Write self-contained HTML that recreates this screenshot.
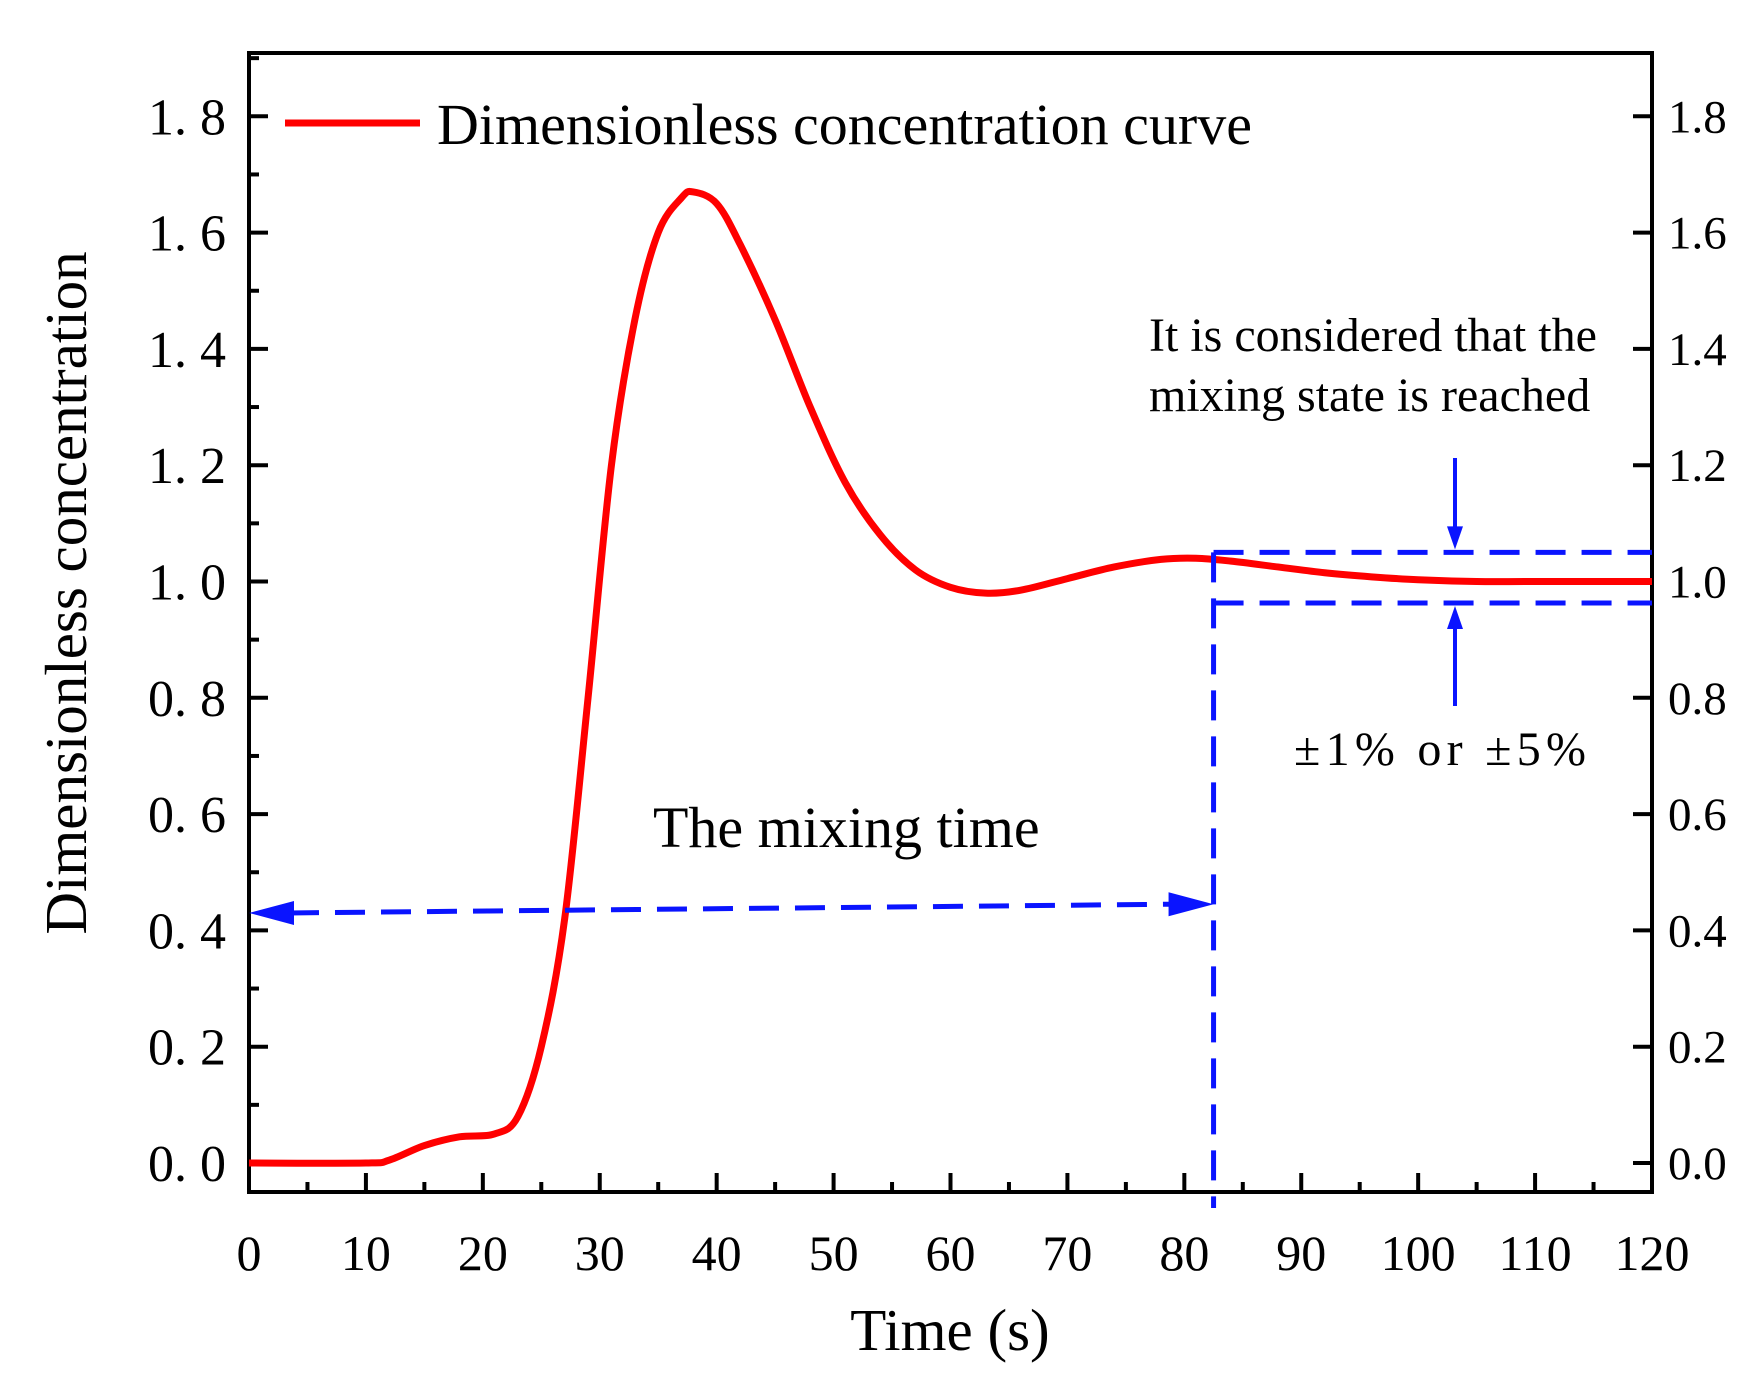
<!DOCTYPE html>
<html><head><meta charset="utf-8">
<style>
html,body{margin:0;padding:0;background:#fff;}
svg{display:block;font-family:"Liberation Serif",serif;}
</style></head>
<body>
<svg id="chart" width="1763" height="1382" viewBox="0 0 1763 1382" xmlns="http://www.w3.org/2000/svg">
<rect width="1763" height="1382" fill="#fff"/>
<g id="axes"></g>
<g id="marks"></g>
<text transform="translate(86,593) rotate(-90)" text-anchor="middle" font-size="59">Dimensionless concentration</text>
<text x="950" y="1350" text-anchor="middle" font-size="59">Time (s)</text>
<line x1="285" y1="123" x2="420" y2="123" stroke="#ff0000" stroke-width="7"/>
<text x="437" y="144" font-size="58">Dimensionless concentration curve</text>
<text x="1149" y="351" font-size="48">It is considered that the</text>
<text x="1149" y="411" font-size="48">mixing state is reached</text>
<text x="1294" y="765" font-size="48" textLength="292" lengthAdjust="spacing">±1% or ±5%</text>
<text x="653" y="847" font-size="58">The mixing time</text>
</svg>
<script>
const times=[0,10,12,15,18,21,23,25,27,29,31,33,35,37,38,40,42,45,48,51,54,57,60,63,66,70,74,78,81,84,88,92,96,100,105,110,120];
const values=[0,0,0.005,0.03,0.045,0.05,0.08,0.2,0.42,0.8,1.2,1.45,1.6,1.66,1.67,1.65,1.58,1.45,1.3,1.17,1.08,1.02,0.99,0.98,0.985,1.005,1.025,1.038,1.04,1.035,1.025,1.015,1.008,1.003,1.0,1.0,1.0];
const xTicks=[0,10,20,30,40,50,60,70,80,90,100,110,120];
const yTicks=[0,0.2,0.4,0.6,0.8,1.0,1.2,1.4,1.6,1.8];
const yLeftLabels=["0. 0","0. 2","0. 4","0. 6","0. 8","1. 0","1. 2","1. 4","1. 6","1. 8"];
const yRightLabels=["0.0","0.2","0.4","0.6","0.8","1.0","1.2","1.4","1.6","1.8"];
const mixingTime=[82.5];
const bandUpper=[1.05];
const bandLower=[0.963];
const arrowLevel=[0.43,0.445];

const L=249,R=1652,T=53,B=1192;
const X=t=>L+(t-0)/120*(R-L);
const Y=v=>1163-v/0.2*116.3;
const NS="http://www.w3.org/2000/svg";
function mk(tag,attrs,parent){const e=document.createElementNS(NS,tag);for(const k in attrs)e.setAttribute(k,attrs[k]);parent.appendChild(e);return e;}
const ax=document.getElementById('axes'), mk_=document.getElementById('marks');

let frame=mk('rect',{x:L,y:T,width:R-L,height:B-T,fill:'none',stroke:'#000','stroke-width':4},ax);



for(let i=0;i<xTicks.length;i++){
  const x=X(xTicks[i]);
  let t=mk('line',{x1:x,y1:B,x2:x,y2:B-19,stroke:'#000','stroke-width':4},ax);
  
  
  let lb=mk('text',{x:x,y:1270,'text-anchor':'middle','font-size':50},ax);
  lb.textContent=xTicks[i];
  
  
  if(i<xTicks.length-1){
    const xm=X(xTicks[i]+5);
    let m=mk('line',{x1:xm,y1:B,x2:xm,y2:B-10,stroke:'#000','stroke-width':4},ax);
    
    
  }
}
for(let i=0;i<yTicks.length;i++){
  const y=Y(yTicks[i]);
  let t=mk('line',{x1:L,y1:y,x2:L+19,y2:y,stroke:'#000','stroke-width':4},ax);
  
  
  let t2=mk('line',{x1:R,y1:y,x2:R-19,y2:y,stroke:'#000','stroke-width':4},ax);
  
  
  let m=mk('line',{x1:L,y1:Y(yTicks[i]+0.1),x2:L+10,y2:Y(yTicks[i]+0.1),stroke:'#000','stroke-width':4},ax);
  
  
  let lb=mk('text',{x:226,y:y+18,'text-anchor':'end','font-size':52},ax);
  lb.textContent=yLeftLabels[i];
  
  
  let rb=mk('text',{x:1668,y:y+16,'font-size':47},ax);
  rb.textContent=yRightLabels[i];
  
  
}

const pts=times.map((t,i)=>[X(t),Y(values[i])]);
let d='M'+pts[0][0]+','+pts[0][1];
for(let i=0;i<pts.length-1;i++){
  const p0=pts[Math.max(0,i-1)],p1=pts[i],p2=pts[i+1],p3=pts[Math.min(pts.length-1,i+2)];
  const c1=[p1[0]+(p2[0]-p0[0])/6,p1[1]+(p2[1]-p0[1])/6];
  const c2=[p2[0]-(p3[0]-p1[0])/6,p2[1]-(p3[1]-p1[1])/6];
  d+=' C'+c1[0]+','+c1[1]+' '+c2[0]+','+c2[1]+' '+p2[0]+','+p2[1];
}
let curve=mk('path',{d:d,fill:'none',stroke:'#ff0000','stroke-width':7,'stroke-linejoin':'round'},mk_);



const blue='#0a14ff';
const xm=X(mixingTime[0]);
let vl=mk('line',{x1:xm,y1:Y(bandUpper[0]),x2:xm,y2:B+16,stroke:blue,'stroke-width':5,'stroke-dasharray':'30 16'},mk_);


let bu=mk('line',{x1:xm,y1:Y(bandUpper[0]),x2:R,y2:Y(bandUpper[0]),stroke:blue,'stroke-width':5,'stroke-dasharray':'30 16'},mk_);


let bl=mk('line',{x1:xm,y1:Y(bandLower[0]),x2:R,y2:Y(bandLower[0]),stroke:blue,'stroke-width':5,'stroke-dasharray':'30 16'},mk_);



const ya=Y(arrowLevel[0]),yb=Y(arrowLevel[1]);
let ha=mk('line',{x1:L+40,y1:ya,x2:xm-44,y2:yb,stroke:blue,'stroke-width':5,'stroke-dasharray':'30 16'},mk_);


let ah1=mk('polygon',{points:`${L},${ya} ${L+45},${ya-12} ${L+45},${ya+12}`,fill:blue},mk_);


let ah2=mk('polygon',{points:`${xm},${yb} ${xm-45},${yb-12} ${xm-45},${yb+12}`,fill:blue},mk_);



const xa=1455;
let da=mk('line',{x1:xa,y1:458,x2:xa,y2:Y(bandUpper[0])-22,stroke:blue,'stroke-width':4},mk_);


let dah=mk('polygon',{points:`${xa},${Y(bandUpper[0])-3} ${xa-8},${Y(bandUpper[0])-26} ${xa+8},${Y(bandUpper[0])-26}`,fill:blue},mk_);


let ua=mk('line',{x1:xa,y1:706,x2:xa,y2:Y(bandLower[0])+22,stroke:blue,'stroke-width':4},mk_);


let uah=mk('polygon',{points:`${xa},${Y(bandLower[0])+3} ${xa-8},${Y(bandLower[0])+26} ${xa+8},${Y(bandLower[0])+26}`,fill:blue},mk_);


</script>
</body></html>
